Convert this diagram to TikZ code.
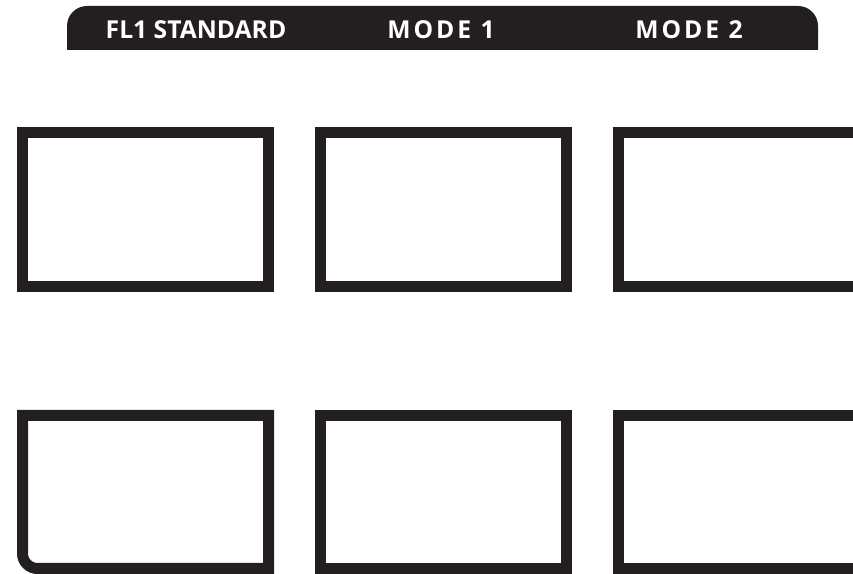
\documentclass[tikz,border=0pt]{standalone}
\usepackage{fontspec}
\setsansfont{Open Sans}
\usetikzlibrary{positioning}
\definecolor{ink}{HTML}{231F20}

\begin{document}
\begin{tikzpicture}[x=0.75pt,y=0.75pt,
  pad/.style={draw=ink,line width=8.25pt},
  tab/.style={text=white,font=\sffamily\bfseries\fontsize{18.5}{19}\selectfont,inner sep=0pt,anchor=base},
  wide/.style={tab,font=\sffamily\bfseries\fontsize{18.5}{19}\selectfont\addfontfeature{LetterSpace=12}}]
\useasboundingbox (0,0) rectangle (853,574);
\clip (0,0) rectangle (853,574);
% mode bar
\fill[ink] (67,524)--(67,548) arc[start angle=180,end angle=90,radius=20]--(798,568) arc[start angle=90,end angle=0,radius=20]--(818,524)--cycle;
\node[tab] (std) at (196,535) {FL1 STANDARD};
\node[wide] (m1) at (441,535) {MODE 1};
\node[wide] (m2) at (689,535) {MODE 2};
% pads, top row
\draw[pad] (22.5,287.5) rectangle (268.5,441.5);
\draw[pad] (320,287.5) rectangle (566,441.5);
\draw[pad] (618.5,287.5) rectangle (880,441.5);
% pads, bottom row
\draw[pad] (268.5,158.5)--(22.5,158.5)--(22.5,20.5) arc[start angle=180,end angle=270,radius=15]--(268.5,5.5)--cycle;
\draw[pad] (320,5.5) rectangle (566,158.5);
\draw[pad] (618.5,5.5) rectangle (880,158.5);
\end{tikzpicture}
\end{document}
